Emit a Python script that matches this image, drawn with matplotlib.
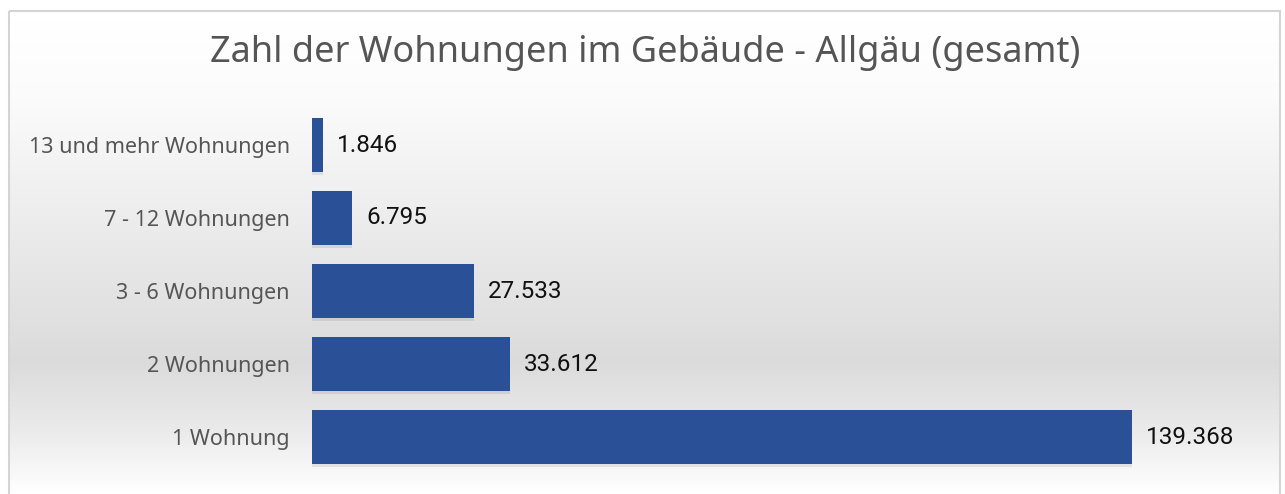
import matplotlib
matplotlib.use("Agg")
import matplotlib.pyplot as plt
import numpy as np
from matplotlib.patches import Rectangle

categories = ["1 Wohnung", "2 Wohnungen", "3 - 6 Wohnungen", "7 - 12 Wohnungen", "13 und mehr Wohnungen"]
values = [139368, 33612, 27533, 6795, 1846]
value_labels = ["139.368", "33.612", "27.533", "6.795", "1.846"]
title = "Zahl der Wohnungen im Gebäude - Allgäu (gesamt)"

W, H = 1285, 494
fig = plt.figure(figsize=(W / 100, H / 100), dpi=100)

# background gradient
bg = fig.add_axes([0, 0, 1, 1])
bg.set_xlim(0, W)
bg.set_ylim(H, 0)
bg.axis("off")
ys = np.linspace(0, H, 300)
prof = np.interp(ys, [0, 11, 90, 250, 360, 430, 494], [1.0, 1.0, 0.985, 0.91, 0.86, 0.92, 1.0])
grad = np.tile(prof[:, None], (1, 2))
bg.imshow(np.dstack([grad, grad, grad]), extent=[8, 1280, H, 11], aspect="auto", zorder=0)
bg.add_patch(Rectangle((0, 0), W, 11, color="white", zorder=0.5))
bg.add_patch(Rectangle((8.5, 11.5), 1271, 490, fill=False, edgecolor="#d4d4d4", lw=1.5, zorder=1))

# bar axes
x0, x1 = 312, 312 + 820 * 160000 / 139368
ybot, ytop = 473.5, 108.5
ax = fig.add_axes([x0 / W, 1 - ybot / H, (x1 - x0) / W, (ybot - ytop) / H])
ax.patch.set_alpha(0)
ypos = np.arange(len(categories))
# shadow
ax.barh(ypos - 0.04, values, height=0.73, color="#000000", alpha=0.08, zorder=1)
ax.barh(ypos, values, height=0.73, color="#2A5097", zorder=2)
ax.set_xlim(0, 160000)
ax.set_ylim(-0.5, len(categories) - 0.5)
for s in ax.spines.values():
    s.set_visible(False)
ax.set_xticks([])
ax.set_yticks(ypos)
ax.set_yticklabels(categories, fontsize=15.5, color="#555555", family=["Noto Sans", "DejaVu Sans"])
ax.tick_params(axis="y", length=0, pad=16)
for y, v, lab in zip(ypos, values, value_labels):
    ax.text(v + 2400, y, lab, va="center", ha="left", fontsize=17.5, color="#111111",
            family=["Roboto", "DejaVu Sans"])

fig.text(645 / W, 1 - 53 / H, title, ha="center", va="center", fontsize=26,
         color="#555555", family=["Noto Sans", "DejaVu Sans"])

fig.savefig("out.png", dpi=100)
